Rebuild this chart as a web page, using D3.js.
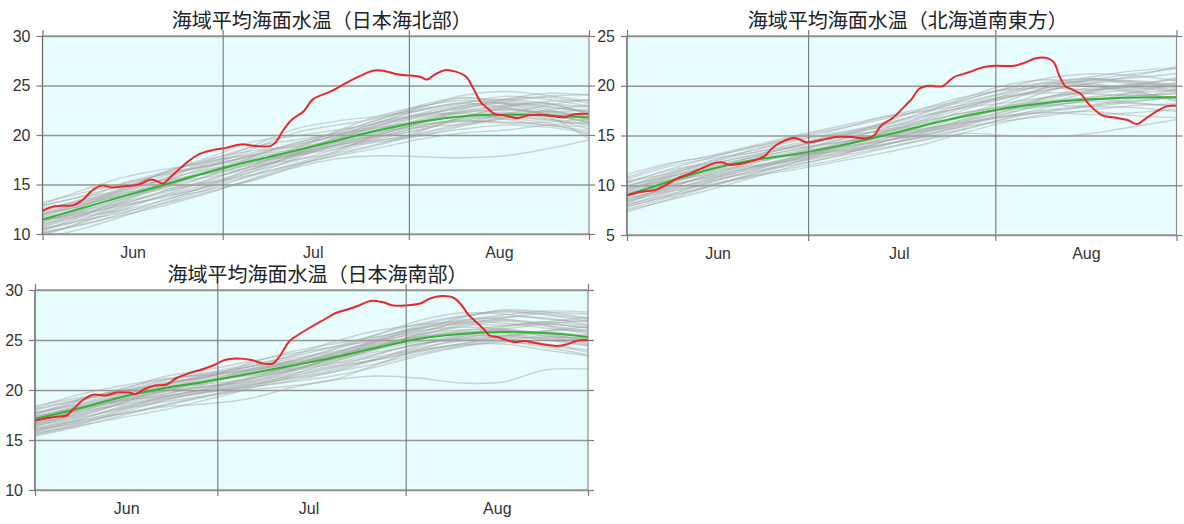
<!DOCTYPE html>
<html>
<head>
<meta charset="utf-8">
<script src="https://cdn.jsdelivr.net/npm/d3@7"></script>
<style>
  body { margin: 0; background: #ffffff; }
  svg { display: block; }
</style>
</head>
<body>
<svg id="chart" width="1184" height="524"></svg>
<script>
// Season covered by every panel: 1 June to 31 August (day offsets from 1 June)
const seasonStart = new Date(2023, 5, 1);
const seasonEnd = new Date(2023, 7, 31);
const monthLabels = ["Jun", "Jul", "Aug"];
// Days at which the past-year and normal curves are sampled
const sampleDays = [0, 7, 14, 21, 28, 35, 42, 49, 56, 63, 70, 77, 84, 91];

// ---------- 日本海北部 ----------
const titleNorth = "海域平均海面水温（日本海北部）";
const yTicksNorth = [10, 15, 20, 25, 30];
const normalNorth = [11.45, 12.7, 13.9, 15.1, 16.35, 17.4, 18.4, 19.45, 20.5, 21.4, 21.95, 22.1, 22.0, 21.75];
const pastNorth = [
  [12.8, 13.9, 15.0, 16.2, 17.0, 17.9, 18.9, 20.0, 21.3, 22.6, 23.3, 23.6, 23.2, 22.8],
  [10.5, 11.6, 12.9, 14.0, 15.1, 16.3, 17.4, 18.6, 19.8, 20.9, 21.6, 21.8, 21.5, 21.0],
  [11.8, 13.2, 14.6, 15.5, 16.1, 16.8, 18.2, 19.6, 21.0, 22.2, 23.0, 23.4, 23.9, 24.1],
  [11.0, 12.0, 13.1, 14.5, 15.9, 17.2, 18.1, 19.0, 19.5, 20.0, 20.6, 21.0, 20.8, 20.2],
  [12.3, 13.5, 14.2, 15.0, 16.8, 18.0, 19.1, 20.3, 21.5, 22.8, 23.7, 23.5, 22.9, 22.3],
  [10.2, 11.0, 12.2, 13.6, 14.5, 15.4, 16.8, 18.3, 19.4, 20.2, 21.2, 22.0, 22.4, 21.9],
  [11.6, 12.5, 13.6, 15.0, 16.5, 17.5, 18.0, 18.9, 20.0, 21.3, 22.6, 23.2, 22.6, 21.5],
  [12.0, 13.0, 14.5, 16.0, 16.9, 17.6, 18.7, 20.4, 21.9, 22.9, 23.5, 23.1, 22.1, 21.3],
  [10.8, 12.0, 13.0, 13.8, 14.9, 16.3, 17.8, 18.8, 19.3, 19.9, 20.9, 21.7, 22.5, 23.0],
  [11.3, 12.4, 13.8, 15.3, 16.2, 17.0, 18.6, 20.0, 21.0, 21.8, 22.4, 22.9, 23.4, 23.5],
  [10.0, 11.2, 12.6, 14.1, 15.5, 16.8, 17.5, 18.2, 19.1, 20.4, 21.8, 22.3, 21.7, 20.6],
  [11.9, 13.3, 14.0, 14.8, 16.0, 17.8, 19.2, 20.1, 20.7, 21.5, 22.2, 22.7, 22.2, 21.9],
  [10.6, 11.4, 12.3, 13.2, 14.3, 15.5, 16.7, 17.6, 17.9, 17.8, 17.7, 17.9, 18.6, 19.5],
  [12.6, 13.4, 14.8, 16.3, 17.6, 18.4, 18.8, 19.4, 20.6, 21.9, 22.9, 23.6, 23.8, 23.2],
  [11.2, 12.9, 14.1, 15.2, 15.8, 16.6, 17.9, 19.3, 20.9, 22.0, 22.2, 21.6, 21.0, 20.9],
  [10.4, 11.5, 13.4, 14.9, 16.3, 17.1, 18.0, 19.0, 20.2, 21.1, 21.5, 22.1, 23.0, 23.6],
  [13.2, 14.2, 15.2, 16.1, 17.0, 18.6, 20.2, 21.0, 21.7, 22.8, 24.0, 24.4, 24.0, 23.4],
  [11.5, 12.2, 13.2, 14.3, 15.6, 16.9, 18.4, 19.7, 20.5, 21.0, 21.4, 21.3, 21.0, 20.4],
  [10.9, 12.3, 13.3, 14.4, 15.2, 16.0, 17.1, 18.4, 20.1, 21.6, 22.3, 22.5, 22.3, 22.6],
  [12.1, 12.9, 14.3, 15.7, 17.2, 18.2, 19.0, 19.9, 20.8, 21.4, 21.9, 22.6, 21.9, 19.6],
  [9.8, 11.3, 12.8, 13.9, 14.8, 16.0, 17.6, 19.1, 20.3, 20.8, 21.1, 21.8, 22.1, 21.2],
  [11.7, 13.0, 14.7, 16.4, 17.4, 18.0, 18.5, 19.2, 20.0, 21.2, 22.4, 23.0, 23.2, 22.0],
  [10.7, 11.8, 12.5, 13.5, 15.0, 16.6, 17.9, 18.6, 19.6, 20.6, 21.4, 21.2, 21.3, 21.6],
  [12.4, 13.6, 15.2, 16.4, 17.8, 19.3, 19.9, 20.5, 21.2, 22.0, 22.8, 23.3, 22.8, 22.4],
  [13.0, 14.5, 15.8, 16.6, 17.3, 18.9, 20.6, 21.4, 21.9, 22.5, 23.2, 23.9, 23.6, 22.9],
  [9.6, 10.6, 11.9, 13.3, 14.6, 15.9, 17.0, 18.0, 19.0, 20.1, 21.0, 21.6, 21.2, 20.0],
  [11.4, 12.1, 13.5, 15.4, 16.9, 17.8, 18.3, 19.5, 21.2, 22.5, 23.2, 22.8, 22.0, 21.4],
  [10.3, 11.9, 13.7, 14.6, 15.3, 16.5, 18.0, 19.3, 19.9, 20.5, 21.8, 22.8, 23.1, 22.2],
  [12.2, 13.1, 13.9, 14.9, 16.4, 17.4, 18.2, 19.0, 19.8, 20.8, 21.7, 22.0, 21.6, 21.1],
  [11.1, 12.6, 14.0, 15.6, 16.6, 17.3, 18.1, 19.8, 21.3, 22.1, 22.7, 23.6, 24.2, 24.0],
  [10.1, 11.0, 12.0, 13.0, 14.2, 15.6, 16.9, 17.9, 18.7, 19.6, 20.2, 20.5, 21.0, 21.3],
  [12.9, 13.8, 14.4, 15.8, 17.5, 18.8, 19.5, 20.2, 21.6, 23.0, 23.8, 23.2, 22.4, 21.8]
];
// This year: [day, °C]
const currentNorth = [
  [0, 12.35], [2, 12.8], [5, 12.9], [6.5, 13.35], [8.5, 14.5], [10, 14.9], [11.5, 14.7],
  [14, 14.85], [16, 15.0], [18, 15.5], [19, 15.35], [20, 15.1], [21.5, 15.85], [24, 17.2],
  [26, 18.05], [28.5, 18.5], [30.5, 18.7], [33, 19.05], [35.5, 18.9], [38, 18.9], [39, 19.4],
  [40, 20.4], [41.5, 21.55], [43.5, 22.4], [45, 23.6], [48, 24.4], [50.5, 25.25], [53, 26.0],
  [55, 26.5], [56.7, 26.5], [59.3, 26.1], [61.2, 26.0], [63, 25.85], [64, 25.6], [65.3, 26.1],
  [67, 26.55], [68.8, 26.4], [70.5, 25.9], [71.7, 24.75], [73, 23.3], [74.3, 22.6], [75.2, 22.15],
  [77.2, 21.95], [79, 21.7], [81, 22.0], [83, 22.05], [85, 21.9], [87, 21.8], [88.5, 22.1], [91, 22.15]
];

// ---------- 北海道南東方 ----------
const titleHokkaido = "海域平均海面水温（北海道南東方）";
const yTicksHokkaido = [5, 10, 15, 20, 25];
const normalHokkaido = [9.0, 10.4, 11.7, 12.6, 13.1, 13.9, 14.9, 16.0, 17.0, 17.8, 18.35, 18.65, 18.85, 18.85];
const pastHokkaido = [
  [9.5, 10.8, 12.0, 12.8, 13.6, 14.5, 15.6, 16.9, 18.2, 19.3, 20.1, 20.5, 20.8, 21.2],
  [8.0, 9.3, 10.5, 11.4, 12.3, 13.1, 14.0, 15.0, 16.2, 17.3, 18.0, 18.4, 18.2, 18.0],
  [10.6, 11.9, 12.7, 13.3, 14.2, 15.1, 15.8, 16.5, 17.8, 19.1, 20.2, 20.9, 21.5, 21.8],
  [8.6, 9.8, 10.9, 11.8, 12.5, 13.3, 14.3, 15.6, 16.9, 17.8, 18.7, 19.5, 19.8, 19.4],
  [9.9, 11.3, 12.5, 13.5, 14.5, 15.3, 16.1, 17.2, 18.6, 19.7, 20.3, 20.0, 19.3, 18.8],
  [7.6, 8.8, 10.0, 11.0, 11.8, 12.6, 13.6, 14.5, 15.2, 15.0, 14.9, 15.2, 15.9, 16.6],
  [9.2, 10.2, 11.4, 12.6, 13.4, 14.0, 14.8, 16.0, 17.6, 18.8, 19.6, 20.2, 20.5, 20.0],
  [10.2, 11.5, 12.2, 13.0, 13.9, 14.8, 15.9, 17.0, 17.8, 18.3, 18.9, 19.6, 20.2, 20.6],
  [8.3, 9.5, 10.7, 11.9, 12.9, 13.8, 14.4, 15.2, 16.4, 17.5, 18.2, 18.9, 19.1, 18.6],
  [9.7, 10.5, 11.1, 12.2, 13.2, 14.1, 15.2, 16.4, 17.3, 18.1, 19.5, 20.6, 21.2, 21.7],
  [7.3, 8.6, 9.9, 10.9, 11.6, 12.4, 13.2, 14.1, 15.3, 16.4, 17.2, 17.4, 17.0, 16.8],
  [11.1, 12.2, 12.9, 13.8, 14.9, 15.7, 16.6, 17.5, 18.4, 19.4, 20.4, 20.7, 20.1, 19.6],
  [8.9, 10.1, 11.6, 12.6, 13.0, 13.6, 14.6, 15.9, 17.1, 18.0, 18.5, 18.8, 19.4, 20.0],
  [9.4, 10.8, 11.9, 12.4, 13.3, 14.6, 15.5, 16.2, 16.9, 17.6, 18.0, 17.9, 17.8, 17.4],
  [8.1, 9.1, 10.3, 11.5, 12.7, 13.5, 14.1, 14.8, 15.7, 16.8, 17.9, 18.6, 19.0, 19.2],
  [10.4, 11.2, 12.4, 13.6, 14.7, 15.6, 16.8, 17.7, 18.6, 19.8, 20.8, 21.2, 21.0, 20.5],
  [9.0, 10.0, 10.8, 11.6, 12.6, 13.9, 14.9, 15.4, 16.1, 17.2, 18.3, 19.4, 20.1, 20.2],
  [7.8, 9.0, 10.4, 11.3, 12.1, 12.9, 13.7, 14.6, 15.6, 16.7, 17.5, 17.9, 18.4, 18.9],
  [9.6, 11.0, 12.1, 13.1, 13.8, 14.3, 15.2, 16.6, 18.0, 18.9, 19.3, 19.2, 19.0, 19.3],
  [8.5, 9.7, 11.2, 12.3, 13.0, 13.4, 14.0, 14.9, 16.0, 17.0, 17.6, 18.1, 18.7, 19.7],
  [10.0, 10.9, 11.8, 12.9, 14.0, 15.0, 15.4, 16.0, 17.1, 18.5, 19.9, 20.6, 20.3, 19.9],
  [8.8, 10.3, 11.3, 11.9, 12.8, 14.0, 15.1, 16.3, 17.3, 17.9, 18.1, 18.5, 19.3, 19.5],
  [9.3, 10.6, 11.7, 12.8, 13.6, 14.3, 15.0, 15.6, 16.5, 17.5, 18.9, 19.8, 19.5, 18.4],
  [8.4, 9.4, 10.1, 11.1, 12.3, 13.7, 14.6, 15.5, 16.6, 17.9, 18.9, 19.3, 19.6, 20.1],
  [10.8, 12.1, 13.0, 14.0, 15.0, 15.9, 16.8, 17.4, 18.1, 19.0, 19.6, 20.3, 21.0, 21.9],
  [7.9, 8.9, 10.0, 11.2, 12.4, 13.2, 13.9, 15.3, 16.7, 17.8, 18.4, 18.7, 18.3, 17.9],
  [9.1, 10.5, 11.5, 12.0, 12.7, 13.8, 15.3, 16.8, 17.9, 18.8, 19.9, 20.7, 20.4, 19.8],
  [8.7, 9.6, 10.6, 11.7, 12.9, 14.2, 15.0, 15.7, 16.3, 16.9, 17.4, 18.0, 18.5, 18.8],
  [10.3, 11.6, 12.8, 13.9, 14.6, 15.2, 16.0, 17.3, 18.8, 20.1, 20.6, 20.2, 19.8, 20.3],
  [7.5, 8.5, 9.6, 10.8, 12.0, 13.0, 14.3, 15.4, 16.3, 17.0, 17.3, 17.1, 17.3, 17.6],
  [9.8, 11.1, 12.3, 13.3, 14.0, 14.9, 16.2, 17.7, 18.9, 19.6, 19.8, 19.6, 20.0, 20.8],
  [8.2, 9.9, 11.0, 11.8, 12.6, 13.5, 14.4, 15.1, 15.9, 16.5, 17.0, 17.6, 18.0, 18.2]
];
const currentHokkaido = [
  [0, 9.0], [2, 9.3], [4.8, 9.55], [6.4, 10.0], [8.3, 10.7], [10.5, 11.2], [12.4, 11.7],
  [13.9, 12.1], [15.5, 12.3], [17.1, 12.05], [18.9, 12.15], [20.8, 12.45], [22.7, 12.9],
  [24, 13.7], [25.5, 14.3], [27.7, 14.75], [29.9, 14.3], [32.1, 14.55], [34.6, 14.85],
  [37.1, 14.85], [39.6, 14.7], [40.9, 15.0], [42.1, 16.0], [44, 16.75], [45.6, 17.7],
  [47.2, 18.7], [48.4, 19.7], [50, 20.0], [52.2, 19.95], [54.1, 20.85], [56.6, 21.35],
  [59, 21.85], [61, 22.0], [64.1, 22.0], [66, 22.35], [67.9, 22.8], [69.7, 22.75],
  [70.7, 22.35], [71.6, 21.0], [72.6, 19.95], [73.8, 19.6], [75.1, 19.2], [76.7, 18.0],
  [78.8, 17.0], [80.7, 16.8], [82.9, 16.55], [84.5, 16.15], [86, 16.75], [87.9, 17.5],
  [89.5, 17.95], [91, 18.0]
];

// ---------- 日本海南部 ----------
const titleSouth = "海域平均海面水温（日本海南部）";
const yTicksSouth = [10, 15, 20, 25, 30];
const normalSouth = [17.1, 18.1, 19.3, 20.2, 20.8, 21.6, 22.4, 23.2, 24.2, 25.2, 25.65, 25.85, 25.75, 25.3];
const pastSouth = [
  [17.8, 18.6, 19.8, 20.9, 21.7, 22.5, 23.3, 24.3, 25.5, 26.6, 27.4, 27.9, 27.6, 27.1],
  [16.2, 17.0, 18.3, 19.2, 19.9, 20.6, 21.4, 22.3, 23.5, 24.6, 25.2, 25.5, 25.0, 24.4],
  [17.3, 18.4, 19.4, 20.0, 20.9, 22.0, 22.9, 23.6, 24.4, 25.4, 26.5, 27.2, 27.7, 27.6],
  [15.6, 16.6, 17.9, 19.0, 19.8, 20.3, 20.9, 21.8, 23.0, 24.2, 24.9, 25.3, 25.1, 24.5],
  [18.2, 19.5, 20.4, 21.1, 21.6, 22.3, 23.4, 24.8, 25.9, 26.5, 26.8, 26.7, 26.2, 25.8],
  [16.0, 16.7, 17.6, 18.3, 18.6, 19.1, 20.2, 21.0, 21.4, 21.2, 20.7, 20.8, 22.0, 22.1],
  [17.0, 17.9, 19.1, 20.2, 20.6, 21.1, 22.0, 23.1, 24.3, 25.5, 26.3, 26.9, 26.4, 25.6],
  [16.6, 17.6, 18.8, 19.6, 20.3, 21.1, 21.9, 22.6, 23.3, 24.0, 24.6, 25.2, 25.9, 26.3],
  [17.6, 18.9, 19.9, 20.6, 21.3, 22.1, 22.9, 24.1, 25.5, 26.9, 27.7, 27.6, 27.1, 26.8],
  [15.9, 16.9, 17.6, 18.5, 19.4, 20.4, 21.5, 22.8, 24.1, 25.1, 25.6, 25.2, 24.6, 24.0],
  [16.8, 18.0, 19.4, 20.6, 21.4, 22.0, 22.6, 23.1, 24.1, 25.6, 26.8, 27.3, 27.2, 26.5],
  [17.4, 18.2, 18.9, 19.8, 20.8, 21.7, 22.5, 23.4, 24.4, 25.2, 25.7, 26.1, 26.6, 27.0],
  [15.4, 16.3, 17.4, 18.4, 19.3, 20.2, 20.8, 21.4, 22.3, 23.4, 24.3, 24.8, 24.5, 23.8],
  [16.9, 17.8, 18.5, 19.3, 20.1, 21.2, 22.3, 23.5, 24.8, 25.6, 26.0, 26.0, 25.4, 25.2],
  [18.0, 19.0, 20.0, 21.3, 22.0, 22.8, 23.6, 24.3, 25.0, 26.0, 27.2, 28.0, 27.8, 27.2],
  [16.4, 17.3, 18.6, 19.8, 20.4, 20.9, 21.9, 23.0, 24.0, 24.8, 25.5, 26.3, 26.8, 26.4],
  [17.2, 18.3, 19.3, 20.0, 20.9, 21.5, 22.1, 22.7, 23.6, 24.6, 25.0, 24.9, 24.3, 23.5],
  [16.1, 17.2, 18.1, 18.8, 19.4, 20.0, 20.4, 21.0, 22.5, 24.0, 25.1, 25.8, 25.6, 25.0],
  [17.7, 18.5, 19.6, 20.7, 21.2, 21.8, 22.8, 24.0, 25.2, 26.2, 26.6, 26.5, 26.8, 27.3],
  [16.5, 17.4, 18.6, 19.5, 20.6, 21.6, 22.2, 22.9, 23.8, 24.5, 25.3, 26.0, 25.6, 24.8],
  [15.8, 16.8, 18.0, 19.3, 20.0, 20.7, 21.6, 22.4, 23.0, 23.8, 24.6, 25.4, 25.9, 26.0],
  [17.1, 18.1, 19.0, 19.9, 20.8, 21.9, 22.7, 23.3, 24.8, 26.2, 27.0, 27.1, 26.5, 25.9],
  [16.3, 17.7, 19.0, 19.9, 20.3, 20.8, 21.8, 23.3, 24.6, 25.3, 25.8, 25.7, 25.2, 24.9],
  [18.4, 19.2, 19.9, 20.5, 21.3, 22.3, 23.1, 23.8, 24.7, 25.8, 26.7, 27.0, 26.7, 26.2],
  [17.5, 18.8, 20.1, 21.0, 21.5, 21.9, 22.6, 23.6, 25.0, 26.4, 27.3, 27.8, 27.5, 26.9],
  [15.5, 16.4, 17.2, 18.0, 19.0, 20.1, 21.3, 22.2, 23.0, 23.9, 24.5, 24.6, 24.0, 23.4],
  [16.7, 17.5, 18.7, 20.1, 21.0, 21.4, 22.0, 23.2, 24.5, 25.3, 25.9, 26.4, 26.6, 26.2],
  [18.1, 19.0, 19.6, 20.3, 21.2, 22.6, 23.8, 24.6, 25.3, 26.1, 26.9, 27.5, 27.9, 27.8],
  [16.0, 17.0, 18.2, 19.1, 19.7, 20.4, 21.2, 22.0, 23.1, 24.4, 25.4, 25.9, 25.4, 24.6],
  [17.3, 18.2, 19.2, 20.4, 21.5, 22.3, 22.8, 23.4, 24.2, 24.9, 25.1, 25.4, 25.8, 25.3],
  [16.6, 17.9, 18.9, 19.4, 20.1, 21.0, 22.4, 23.7, 24.9, 25.9, 26.3, 26.1, 25.7, 25.5],
  [15.7, 16.5, 17.7, 18.9, 19.8, 20.5, 21.1, 21.8, 22.6, 23.6, 24.4, 25.0, 25.3, 25.1]
];
const currentSouth = [
  [0, 16.95], [2.1, 17.2], [4, 17.35], [5.2, 17.45], [6.5, 18.2], [8.1, 19.1], [9.7, 19.55],
  [11.6, 19.45], [13.5, 19.75], [15.4, 19.75], [16.6, 19.6], [17.9, 20.05], [19.8, 20.45],
  [21.7, 20.55], [23.3, 21.2], [25.5, 21.7], [27.4, 22.05], [29.3, 22.45], [31.2, 23.0],
  [33.1, 23.15], [35.6, 23.0], [37.5, 22.65], [39.1, 22.65], [40.3, 23.4], [41.9, 24.9],
  [43.8, 25.7], [45.7, 26.4], [47.6, 27.05], [49.5, 27.7], [51.4, 28.05], [53.3, 28.45],
  [55.2, 28.9], [57.1, 28.8], [59, 28.45], [60.9, 28.45], [63.4, 28.65], [65, 29.15],
  [66.9, 29.4], [68.8, 29.25], [70.1, 28.55], [71.3, 27.55], [72.6, 26.8], [73.9, 26.05],
  [74.8, 25.45], [76.1, 25.3], [77.3, 25.05], [78.9, 24.8], [80.5, 24.9], [82.4, 24.7],
  [84.3, 24.5], [85.9, 24.4], [87.5, 24.55], [89, 24.9], [91, 25.0]
];

// Panel frames on the page
const panels = [
  { id: "north", title: titleNorth, yDomain: [10, 30], yTicks: yTicksNorth, past: pastNorth, normal: normalNorth, current: currentNorth,
    left: 42.5, top: 36, width: 546.5, height: 198 },
  { id: "hokkaido", title: titleHokkaido, yDomain: [5, 25], yTicks: yTicksHokkaido, past: pastHokkaido, normal: normalHokkaido, current: currentHokkaido,
    left: 627, top: 36, width: 549.5, height: 199 },
  { id: "south", title: titleSouth, yDomain: [10, 30], yTicks: yTicksSouth, past: pastSouth, normal: normalSouth, current: currentSouth,
    left: 35, top: 290, width: 553, height: 200 }
];

const DAY_MS = 864e5;
const dayToDate = d => new Date(seasonStart.getTime() + d * DAY_MS);
const monthStarts = d3.timeMonth.range(seasonStart, dayToDate(92));
const monthMids = monthStarts.map(m => d3.timeDay.offset(m, 15));

const svg = d3.select("#chart");

panels.forEach(p => {
  const x = d3.scaleTime().domain([seasonStart, seasonEnd]).range([0, p.width]);
  const y = d3.scaleLinear().domain(p.yDomain).range([p.height, 0]);

  const g = svg.append("g").attr("transform", `translate(${p.left},${p.top})`);

  g.append("clipPath").attr("id", "clip-" + p.id)
    .append("rect").attr("width", p.width).attr("height", p.height);

  // plot background
  g.append("rect").attr("width", p.width).attr("height", p.height).attr("fill", "#e7fcfd");

  // horizontal grid
  g.append("g").attr("class", "grid")
    .call(d3.axisLeft(y).tickValues(p.yTicks).tickSize(-p.width).tickFormat(""))
    .call(s => s.select(".domain").remove())
    .call(s => s.selectAll("line").attr("stroke", "#959595").attr("stroke-width", 1.5));

  const lineSampled = d3.line()
    .x((v, i) => x(dayToDate(sampleDays[i])))
    .y(v => y(v))
    .curve(d3.curveCatmullRom.alpha(0.5));

  const lineNormal = d3.line()
    .x((v, i) => x(dayToDate(sampleDays[i])))
    .y(v => y(v))
    .curve(d3.curveBasis);

  const lineCurrent = d3.line()
    .x(d => x(dayToDate(d[0])))
    .y(d => y(d[1]))
    .curve(d3.curveCatmullRom.alpha(0.5));

  const data = g.append("g").attr("clip-path", `url(#clip-${p.id})`);

  data.selectAll("path.past").data(p.past).join("path")
    .attr("class", "past")
    .attr("d", lineSampled)
    .attr("fill", "none")
    .attr("stroke", "#a2a2a2")
    .attr("stroke-opacity", 0.45)
    .attr("stroke-width", 1.4);

  // month boundaries inside the plot
  g.append("g")
    .call(d3.axisBottom(x).tickValues(monthStarts.slice(1)).tickSize(-p.height).tickFormat(""))
    .attr("transform", `translate(0,${p.height})`)
    .call(s => s.select(".domain").remove())
    .call(s => s.selectAll("line").attr("stroke", "#6a6a6a").attr("stroke-width", 1));

  data.append("path")
    .datum(p.normal)
    .attr("d", lineNormal)
    .attr("fill", "none")
    .attr("stroke", "#2fb52f")
    .attr("stroke-width", 2);

  data.append("path")
    .datum(p.current)
    .attr("d", lineCurrent)
    .attr("fill", "none")
    .attr("stroke", "#e8282b")
    .attr("stroke-width", 2);

  // frame
  g.append("rect").attr("width", p.width).attr("height", p.height)
    .attr("fill", "none").attr("stroke", "#8c8c8c").attr("stroke-width", 1.2);
  g.append("line").attr("x1", 0).attr("x2", 0).attr("y1", 0).attr("y2", p.height)
    .attr("stroke", "#6e6e6e").attr("stroke-width", 1.2);

  const edgeTicks = monthStarts.concat([seasonEnd]);
  const styleAxis = s => {
    s.select(".domain").remove();
    s.selectAll("line").attr("stroke", "#7a7a7a").attr("stroke-width", 1.2);
    s.selectAll("text")
      .attr("fill", "#333")
      .style("font-family", "'Liberation Sans', Arial, sans-serif")
      .style("font-size", "16px");
  };

  // y axis, left with labels, right ticks only
  g.append("g")
    .call(d3.axisLeft(y).tickValues(p.yTicks).tickSize(6).tickPadding(6).tickFormat(d3.format("d")))
    .call(styleAxis);
  g.append("g").attr("transform", `translate(${p.width},0)`)
    .call(d3.axisRight(y).tickValues(p.yTicks).tickSize(6).tickFormat(""))
    .call(styleAxis);

  // x ticks on month boundaries
  g.append("g").attr("transform", `translate(0,${p.height})`)
    .call(d3.axisBottom(x).tickValues(edgeTicks).tickSize(6).tickFormat(""))
    .call(styleAxis);
  g.append("g")
    .call(d3.axisTop(x).tickValues(edgeTicks).tickSize(6).tickFormat(""))
    .call(styleAxis);

  // month names centred in each month
  g.append("g").attr("transform", `translate(0,${p.height})`)
    .call(d3.axisBottom(x).tickValues(monthMids).tickSize(0).tickPadding(13)
      .tickFormat((d, i) => monthLabels[i]))
    .call(styleAxis);

  // title
  g.append("text")
    .attr("x", p.width / 2 + 6)
    .attr("y", -8)
    .attr("text-anchor", "middle")
    .attr("fill", "#222")
    .style("font-family", "'Noto Sans CJK JP', sans-serif")
    .style("font-size", "20px")
    .text(p.title);
});
</script>
</body>
</html>
